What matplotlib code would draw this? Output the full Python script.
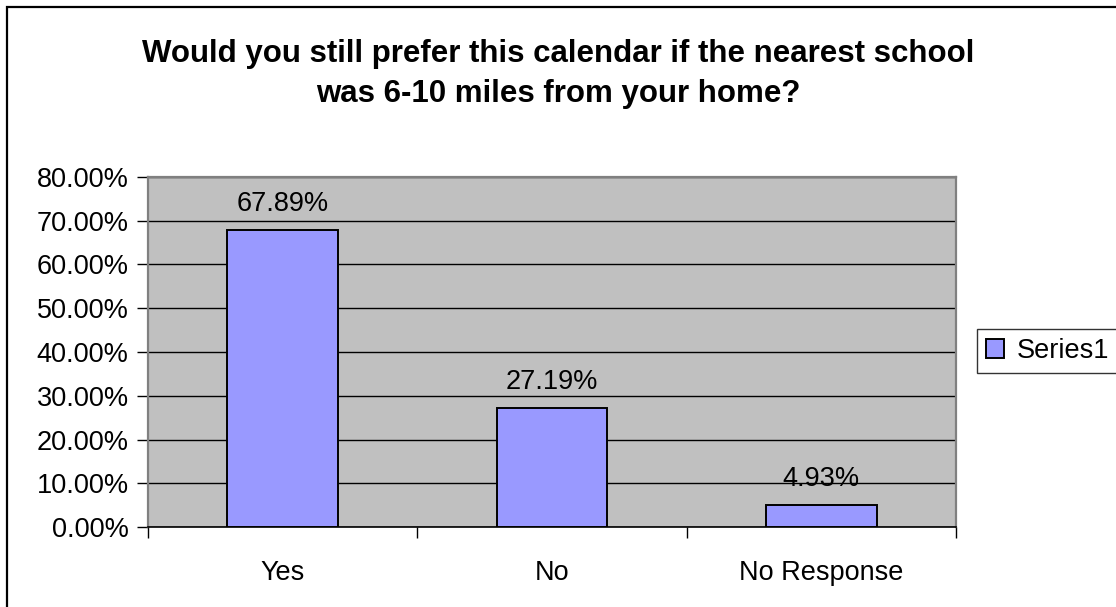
import matplotlib
matplotlib.use("Agg")
import matplotlib.pyplot as plt
from matplotlib.patches import Rectangle
from matplotlib.ticker import FuncFormatter, MultipleLocator, FixedLocator

# survey answers
categories = ["Yes", "No", "No Response"]
shares = [0.6789, 0.2719, 0.0493]
series_name = "Series1"
title = "Would you still prefer this calendar if the nearest school\nwas 6-10 miles from your home?"

plt.rcParams["font.family"] = ["Liberation Sans", "DejaVu Sans"]

fig = plt.figure(figsize=(11.16, 6.07), dpi=100)
ax = fig.add_axes([148 / 1116, 1 - 527 / 607, 808 / 1116, 350 / 607])

# outer chart frame
fig.patches.append(Rectangle((7 / 1116, -0.05), 1.2, 1 - 7 / 607 + 0.05,
                             transform=fig.transFigure, fill=False,
                             edgecolor="black", linewidth=1.6))

ax.set_facecolor("#C0C0C0")
x = list(range(len(categories)))
bars = ax.bar(x, shares, width=0.41, color="#9999FF", edgecolor="black",
              linewidth=1.4, label=series_name, zorder=3)

for xi, v in zip(x, shares):
    ax.annotate(f"{v * 100:.2f}%", (xi, v), xytext=(0, 9.5),
                textcoords="offset points", ha="center", va="bottom",
                fontsize=19.5, zorder=4)

ax.set_xlim(-0.5, len(categories) - 0.5)
ax.set_ylim(0, 0.8)
ax.yaxis.set_major_locator(MultipleLocator(0.1))
ax.yaxis.set_major_formatter(FuncFormatter(lambda v, p: f"{v * 100:.2f}%"))
ax.grid(axis="y", color="black", linewidth=1.0, zorder=1)
ax.set_axisbelow(True)

ax.set_xticks(x)
ax.set_xticklabels(categories)
ax.xaxis.set_minor_locator(FixedLocator([i - 0.5 for i in range(len(categories) + 1)]))
ax.tick_params(axis="x", which="major", length=0, pad=24, labelsize=19.5)
ax.tick_params(axis="x", which="minor", length=8, width=1, color="black")
ax.tick_params(axis="y", length=8, width=1, pad=6, labelsize=19.5)

for side in ["left", "top", "right"]:
    ax.spines[side].set_color("#808080")
    ax.spines[side].set_linewidth(1.6)
ax.spines["bottom"].set_color("black")
ax.spines["bottom"].set_linewidth(1.2)

fig.text(0.5, 1 - 74 / 607, title, ha="center", va="center",
         fontsize=22.5, fontweight="bold", linespacing=1.4)

leg = ax.legend(loc="center left", bbox_to_anchor=(977 / 1116, 1 - 351 / 607),
                bbox_transform=fig.transFigure, fontsize=19.5, frameon=True,
                fancybox=False, edgecolor="black", handlelength=0.65,
                handleheight=0.65, handletextpad=0.45, borderpad=0.35,
                borderaxespad=0)
leg.get_frame().set_linewidth(1.0)

fig.savefig("out.png", dpi=100)
